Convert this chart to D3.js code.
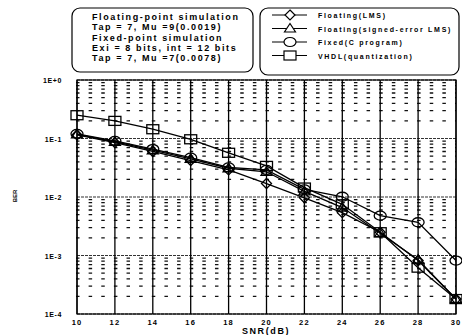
<!DOCTYPE html>
<html>
<head>
<meta charset="utf-8">
<script src="https://cdn.jsdelivr.net/npm/d3@7"></script>
<style>
  body { margin: 0; background: #fff; }
  svg { display: block; }
  text { font-family: "Liberation Sans", Arial, sans-serif; font-weight: bold; fill: #000; }
</style>
</head>
<body>
<svg width="462" height="335"></svg>
<script>
// SNR in dB
const snr = [10, 12, 14, 16, 18, 20, 22, 24, 26, 28, 30];

// BER per simulation
const berLms = [0.115, 0.085, 0.060, 0.042, 0.029, 0.017, 0.0097, 0.0054, 0.0025, 0.00082, 0.00018];
const berSigned = [0.118, 0.088, 0.063, 0.045, 0.031, 0.027, 0.0125, 0.0066, 0.0024, 0.00085, 0.00018];
const berFixed = [0.12, 0.091, 0.066, 0.047, 0.032, 0.029, 0.0135, 0.0101, 0.0048, 0.0037, 0.00082];
const berVhdl = [0.25, 0.20, 0.144, 0.097, 0.057, 0.034, 0.0145, 0.0075, 0.0025, 0.00062, 0.00018];

const seriesNames = ["Floating(LMS)", "Floating(signed-error LMS)", "Fixed(C program)", "VHDL(quantization)"];
const seriesShapes = ["diamond", "triangle", "circle", "square"];
const seriesValues = [berLms, berSigned, berFixed, berVhdl];

const xTicks = [10, 12, 14, 16, 18, 20, 22, 24, 26, 28, 30];
const yTicks = [1, 1e-1, 1e-2, 1e-3, 1e-4];
const yTickLabels = ["1E+0", "1E-1", "1E-2", "1E-3", "1E-4"];

const noteLines = [
  "Floating-point simulation",
  "Tap = 7, Mu =9(0.0019)",
  "Fixed-point simulation",
  "Exi = 8 bits, int = 12 bits",
  "Tap = 7, Mu =7(0.0078)"
];

const svg = d3.select("svg");
const plotL = 77, plotR = 456, plotT = 80, plotB = 314;

const x = d3.scaleLinear().domain([10, 30]).range([plotL, plotR]);
const y = d3.scaleLog().domain([1e-4, 1]).range([plotB, plotT]);

// minor horizontal grid (dashes lined up in 3 columns per 2 dB)
const step = x(12) - x(10);
const minor = [];
[1e-4, 1e-3, 1e-2, 1e-1].forEach(function(d) {
  for (let k = 2; k <= 9; k++) minor.push(d * k);
});
svg.append("g").selectAll("line").data(minor).join("line")
  .attr("x1", plotL - 1).attr("x2", plotR)
  .attr("y1", d => y(d)).attr("y2", d => y(d))
  .attr("stroke", "#111").attr("stroke-width", 1.3)
  .attr("stroke-dasharray", "3.5," + (step / 3 - 3.5));

// major horizontal grid
svg.append("g").selectAll("line").data(yTicks).join("line")
  .attr("x1", plotL).attr("x2", plotR)
  .attr("y1", d => y(d)).attr("y2", d => y(d))
  .attr("stroke", "#333").attr("stroke-width", 1.2)
  .attr("stroke-dasharray", "3,1");

// vertical grid
svg.append("g").selectAll("line").data(xTicks).join("line")
  .attr("x1", d => x(d)).attr("x2", d => x(d))
  .attr("y1", plotT).attr("y2", plotB)
  .attr("stroke", "#000").attr("stroke-width", 1.3);

// tick labels
svg.append("g").selectAll("text").data(yTicks).join("text")
  .attr("x", 62).attr("y", d => y(d) + 3)
  .attr("text-anchor", "end")
  .style("font-size", "7px").style("letter-spacing", "0.6px")
  .text((d, i) => yTickLabels[i]);

svg.append("g").selectAll("text").data(xTicks).join("text")
  .attr("x", d => x(d)).attr("y", 325)
  .attr("text-anchor", "middle")
  .style("font-size", "7.5px").style("letter-spacing", "1.2px")
  .text(d => d);

svg.append("text")
  .attr("x", 266).attr("y", 334)
  .attr("text-anchor", "middle")
  .style("font-size", "9px").style("letter-spacing", "1.6px")
  .text("SNR(dB)");

svg.append("text")
  .attr("transform", "translate(17,196) rotate(-90)")
  .attr("text-anchor", "middle")
  .style("font-size", "6px")
  .text("BER");

// markers
function drawMarker(g, shape, cx, cy) {
  if (shape === "diamond") {
    g.append("path").attr("d", `M${cx},${cy - 5}L${cx + 5},${cy}L${cx},${cy + 5}L${cx - 5},${cy}Z`);
  } else if (shape === "triangle") {
    g.append("path").attr("d", `M${cx},${cy - 5}L${cx + 5.5},${cy + 3.5}L${cx - 5.5},${cy + 3.5}Z`);
  } else if (shape === "circle") {
    g.append("ellipse").attr("cx", cx).attr("cy", cy).attr("rx", 6).attr("ry", 4.5);
  } else {
    g.append("rect").attr("x", cx - 6).attr("y", cy - 4.5).attr("width", 12).attr("height", 9);
  }
}

const line = d3.line().x(d => x(d[0])).y(d => y(d[1]));

seriesValues.forEach(function(vals, i) {
  const pts = snr.map((s, j) => [s, vals[j]]);
  const g = svg.append("g").attr("fill", "none").attr("stroke", "#000").attr("stroke-width", 1.3);
  g.append("path").attr("d", line(pts));
  pts.forEach(p => drawMarker(g, seriesShapes[i], x(p[0]), y(p[1])));
});

// plot frame
svg.append("rect")
  .attr("x", plotL).attr("y", plotT)
  .attr("width", plotR - plotL).attr("height", plotB - plotT)
  .attr("fill", "none").attr("stroke", "#000").attr("stroke-width", 1.2);

// note box
svg.append("rect")
  .attr("x", 72).attr("y", 8).attr("width", 181).attr("height", 64)
  .attr("rx", 8)
  .attr("fill", "none").attr("stroke", "#000").attr("stroke-width", 1.2);

svg.append("g").selectAll("text").data(noteLines).join("text")
  .attr("x", 92).attr("y", (d, i) => 20 + i * 10.3)
  .style("font-size", "9px").style("letter-spacing", "1.6px")
  .text(d => d);

// legend
svg.append("rect")
  .attr("x", 260).attr("y", 8).attr("width", 199).attr("height", 67)
  .attr("rx", 8)
  .attr("fill", "none").attr("stroke", "#000").attr("stroke-width", 1.2);

const lg = svg.append("g").selectAll("g").data(seriesNames).join("g")
  .attr("transform", (d, i) => `translate(0,${15 + i * 13.5})`);

lg.append("line")
  .attr("x1", 272).attr("x2", 307).attr("y1", 0).attr("y2", 0)
  .attr("stroke", "#000").attr("stroke-width", 1.2);

lg.each(function(d, i) {
  const g = d3.select(this).append("g").attr("fill", "#fff").attr("stroke", "#000").attr("stroke-width", 1.2);
  drawMarker(g, seriesShapes[i], 290, 0);
});

lg.append("text")
  .attr("x", 318).attr("y", 3)
  .style("font-size", "7px").style("letter-spacing", "1.7px")
  .text(d => d);
</script>
</body>
</html>
